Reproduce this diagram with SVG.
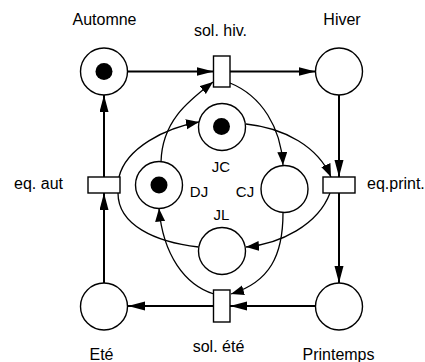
<svg xmlns="http://www.w3.org/2000/svg" width="425" height="362" viewBox="0 0 425 362">
  <style>
    .place { fill: #fff; stroke: #000; stroke-width: 1.4; }
    .token { fill: #000; }
    .trans { fill: #fff; stroke: #000; stroke-width: 1.4; }
    .lbl { font-family: "Liberation Sans", Arial, Helvetica, sans-serif; font-size: 16px; fill: #000; }
    .ilbl { font-family: "Liberation Sans", Arial, Helvetica, sans-serif; font-size: 15px; fill: #000; }
    .outer { fill: none; stroke: #000; stroke-width: 2; marker-end: url(#headBig); }
    .inner { fill: none; stroke: #000; stroke-width: 1.3; }
    .inner.arr { marker-end: url(#headSmall); }
  </style>
  <defs>
    <marker id="headBig" markerUnits="userSpaceOnUse" markerWidth="18" markerHeight="10" refX="17" refY="4.5" orient="auto">
      <path d="M0,0 L17,4.5 L0,9 Z" fill="#000"/>
    </marker>
    <marker id="headSmall" markerUnits="userSpaceOnUse" markerWidth="14" markerHeight="11" refX="13" refY="5" orient="auto">
      <path d="M0,0 L13,5 L0,10 Z" fill="#000"/>
    </marker>
  </defs>

  <!-- connectors -->
  <g id="connectors">
    <!-- seasons cycle -->
    <path class="outer" d="M127.5,71.5 L213.5,71.5"/>
    <path class="outer" d="M230,71.5 L315.5,71.5"/>
    <path class="outer" d="M339,95 L339,177"/>
    <path class="outer" d="M339,193 L339,283"/>
    <path class="outer" d="M315.5,306 L230,306"/>
    <path class="outer" d="M213.5,306 L128,306"/>
    <path class="outer" d="M104,283 L104,193"/>
    <path class="outer" d="M104,177 L104,95"/>

    <!-- day-length arcs -->
    <path class="inner arr" d="M161,162 C162,120 190,100 213,82"/>
    <path class="inner arr" d="M230,83 C262,96 281,128 283,165"/>
    <path class="inner arr" d="M246,124 C285,128 318,147 331,177"/>
    <path class="inner arr" d="M330,193 C318,225 280,244 246,247"/>
    <path class="inner arr" d="M283,213 C283,255 270,282 231,294"/>
    <path class="inner arr" d="M214,294 C185,285 163,255 159,208.5"/>
    <path class="inner" d="M198.5,247 C155,242 118,225 118,193"/>
    <path class="inner arr" d="M119,177 C126,148 165,128 199,122"/>
  </g>

  <!-- outer places -->
  <g id="automne">
    <circle class="place" cx="104" cy="71.5" r="23.5"/>
    <circle class="token" cx="104" cy="71.5" r="8.5"/>
    <text class="lbl" x="104.5" y="25" text-anchor="middle">Automne</text>
  </g>
  <g id="hiver">
    <circle class="place" cx="339" cy="71.5" r="23.5"/>
    <text class="lbl" x="342" y="25" text-anchor="middle">Hiver</text>
  </g>
  <g id="printemps">
    <circle class="place" cx="339" cy="306.5" r="23.5"/>
    <text class="lbl" x="338.5" y="360" text-anchor="middle">Printemps</text>
  </g>
  <g id="ete">
    <circle class="place" cx="104" cy="306.5" r="23.5"/>
    <text class="lbl" x="101.5" y="360" text-anchor="middle">Eté</text>
  </g>

  <!-- transitions -->
  <g id="sol-hiv">
    <rect class="trans" x="213.5" y="56" width="16.5" height="31"/>
    <text class="lbl" x="220.5" y="36" text-anchor="middle">sol. hiv.</text>
  </g>
  <g id="eq-print">
    <rect class="trans" x="323" y="177" width="32" height="16"/>
    <text class="lbl" x="367" y="189">eq.print.</text>
  </g>
  <g id="sol-ete">
    <rect class="trans" x="213.5" y="290" width="16.5" height="32"/>
    <text class="lbl" x="218.5" y="352" text-anchor="middle">sol. été</text>
  </g>
  <g id="eq-aut">
    <rect class="trans" x="88" y="177" width="32" height="16"/>
    <text class="lbl" x="63" y="189" text-anchor="end">eq. aut</text>
  </g>

  <!-- inner places -->
  <g id="jc">
    <circle class="place" cx="222" cy="127" r="23.5"/>
    <circle class="token" cx="221.5" cy="126.5" r="8.5"/>
    <text class="ilbl" x="221" y="172" text-anchor="middle">JC</text>
  </g>
  <g id="dj">
    <circle class="place" cx="159" cy="185" r="23.5"/>
    <circle class="token" cx="159" cy="185" r="8.5"/>
    <text class="ilbl" x="199" y="197" text-anchor="middle">DJ</text>
  </g>
  <g id="cj">
    <circle class="place" cx="284.5" cy="189" r="23.5"/>
    <text class="ilbl" x="245" y="197" text-anchor="middle">CJ</text>
  </g>
  <g id="jl">
    <circle class="place" cx="222" cy="251" r="23.5"/>
    <text class="ilbl" x="221.5" y="220" text-anchor="middle">JL</text>
  </g>
</svg>
